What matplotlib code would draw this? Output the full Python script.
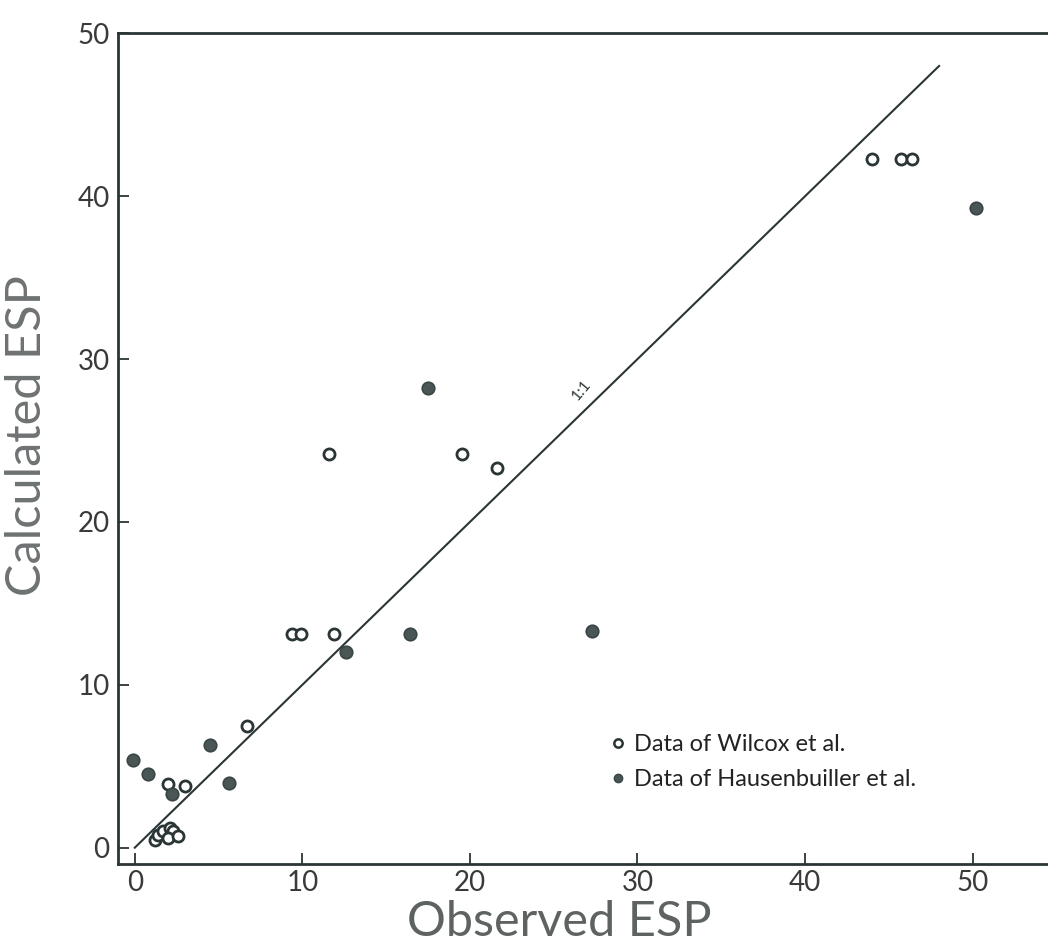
import matplotlib
matplotlib.use("Agg")
import matplotlib.pyplot as plt
from matplotlib.lines import Line2D

# Data of Wilcox et al. (open circles)
wilcox_obs = [44.0, 45.7, 46.4, 11.6, 19.5, 21.6, 9.4, 9.9, 11.9, 6.7, 3.0, 2.0,
              1.2, 1.4, 1.7, 2.1, 2.3, 2.0, 2.6]
wilcox_calc = [42.3, 42.3, 42.3, 24.2, 24.2, 23.3, 13.1, 13.1, 13.1, 7.5, 3.8, 3.9,
               0.5, 0.8, 1.0, 1.2, 1.0, 0.6, 0.7]

# Data of Hausenbuiller et al. (filled circles)
haus_obs = [50.2, 17.5, 16.4, 27.3, 12.6, -0.1, 0.8, 4.5, 5.6, 2.2]
haus_calc = [39.3, 28.2, 13.1, 13.3, 12.0, 5.4, 4.5, 6.3, 4.0, 3.3]

# 1:1 reference line
line_x = [0, 48]
line_y = [0, 48]

xticks = [0, 10, 20, 30, 40, 50]
yticks = [0, 10, 20, 30, 40, 50]

ink = "#2b3535"
plt.rcParams['font.family'] = ['Lato', 'DejaVu Sans']

fig = plt.figure(figsize=(10.48, 9.46), dpi=100)
ax = fig.add_axes([0.1126, 0.0867, 0.8874, 0.878])

ax.plot(line_x, line_y, color=ink, lw=1.5, zorder=1)
ax.plot(wilcox_obs, wilcox_calc, linestyle='none', marker='o', markersize=8,
        markerfacecolor='white', markeredgecolor=ink, markeredgewidth=2.0, zorder=3)
ax.plot(haus_obs, haus_calc, linestyle='none', marker='o', markersize=9,
        markerfacecolor='#4a5555', markeredgecolor='#3a4545', markeredgewidth=1.2, zorder=3)

ax.text(26.7, 28.1, "1:1", rotation=50, fontsize=11, color=ink,
        ha='center', va='center')

ax.set_xlim(-1.0, 54.5)
ax.set_ylim(-1.0, 50.0)
ax.set_xticks(xticks)
ax.set_yticks(yticks)
ax.tick_params(direction='in', length=8, width=1.3, colors=ink,
               labelsize=20, labelcolor='#3a3a3a', pad=4)
ax.tick_params(axis='y', pad=6)

ax.spines['right'].set_visible(False)
for s in ['left', 'bottom', 'top']:
    ax.spines[s].set_color(ink)
    ax.spines[s].set_linewidth(2.0)

ax.set_xlabel("Observed ESP", fontsize=35, color='#5e6262')
ax.set_ylabel("Calculated ESP", fontsize=35, color='#6e7272')
ax.xaxis.set_label_coords(0.475, -0.043)
ax.yaxis.set_label_coords(-0.074, 0.516)

handles = [
    Line2D([], [], linestyle='none', marker='o', markersize=6,
           markerfacecolor='white', markeredgecolor=ink, markeredgewidth=1.8),
    Line2D([], [], linestyle='none', marker='o', markersize=6,
           markerfacecolor='#4a5555', markeredgecolor='#3a4545'),
]
ax.legend(handles, ["Data of Wilcox et al.", "Data of Hausenbuiller et al."],
          loc='upper left', bbox_to_anchor=(0.502, 0.182), frameon=False,
          fontsize=17, handletextpad=0.2, handlelength=1.0, labelspacing=0.6,
          labelcolor='#222222')

fig.savefig("out.png", dpi=100)
